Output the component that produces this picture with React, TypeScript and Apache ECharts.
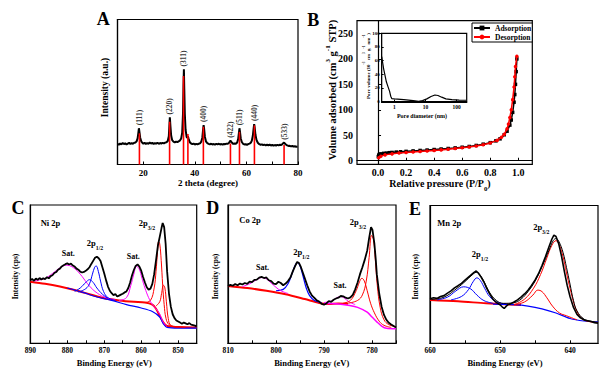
import React, { useEffect, useRef } from "react";
import * as echarts from "echarts";

const SERIF = "Liberation Serif, serif";

// ---------- Panel A: XRD ----------
const xrdPattern: [number, number][] = [
  [10, 14.2], [10.5, 13.6], [11, 14.5], [11.5, 13.9], [12, 14.8], [12.5, 14.1], [13, 14.6], [13.5, 13.8], [14, 14.4], [14.5, 14.9],
  [15, 14.2], [15.5, 14.7], [16, 14.3], [16.5, 15.0], [17, 15.2], [17.4, 16.0], [17.8, 18.0], [18.1, 22.0], [18.3, 25.0], [18.5, 22.5],
  [18.8, 18.5], [19.2, 16.0], [19.6, 15.0], [20, 14.4], [20.5, 14.9], [21, 14.2], [21.5, 14.8], [22, 14.3], [22.5, 15.1], [23, 14.5],
  [23.5, 14.9], [24, 14.2], [24.5, 14.7], [25, 14.4], [25.5, 15.0], [26, 14.3], [26.5, 14.8], [27, 14.5], [27.5, 14.9], [28, 14.6],
  [28.5, 15.1], [29, 15.3], [29.5, 16.2], [29.9, 19.5], [30.1, 26], [30.3, 32.5], [30.5, 27], [30.8, 20], [31.2, 16.8], [31.7, 15.8],
  [32.2, 15.3], [32.7, 15.8], [33.2, 15.4], [33.7, 16.0], [34.2, 16.5], [34.7, 18.0], [35.1, 22], [35.4, 35], [35.6, 55], [35.75, 65.6],
  [35.9, 52], [36.1, 35], [36.4, 24], [36.8, 19], [37.1, 18.5], [37.3, 19.5], [37.6, 17.5], [38.0, 15.5], [38.5, 14.5], [39, 14.0],
  [39.5, 14.4], [40, 13.8], [40.5, 14.2], [41, 13.9], [41.5, 14.3], [42, 14.6], [42.5, 15.8], [42.9, 18.5], [43.2, 24], [43.4, 27.2],
  [43.6, 24.5], [43.9, 19], [44.3, 16], [44.8, 14.8], [45.3, 14.2], [45.8, 13.9], [46.3, 14.3], [46.8, 13.8], [47.3, 14.1], [47.8, 13.7],
  [48.3, 14.2], [48.8, 13.9], [49.3, 14.3], [49.8, 13.8], [50.3, 14.1], [50.8, 13.7], [51.3, 14.2], [51.8, 14.0], [52.3, 14.4], [52.8, 14.3],
  [53.3, 15.0], [53.6, 16.0], [53.8, 16.4], [54.0, 16.0], [54.4, 15.0], [54.9, 14.2], [55.4, 14.5], [55.9, 14.3], [56.4, 15.2], [56.8, 17.5],
  [57.1, 22], [57.3, 25], [57.5, 22.5], [57.8, 18], [58.2, 15.5], [58.7, 14.3], [59.2, 13.8], [59.7, 14.0], [60.2, 13.6], [60.7, 14.1],
  [61.2, 14.4], [61.7, 15.0], [62.1, 16.5], [62.5, 20], [62.8, 25], [63.0, 27.9], [63.2, 25.5], [63.5, 20.5], [63.9, 17], [64.4, 15],
  [65, 14], [65.5, 13.6], [66, 13.9], [66.5, 13.4], [67, 13.7], [67.5, 13.2], [68, 13.6], [68.5, 13.3], [69, 13.7], [69.5, 13.1],
  [70, 13.5], [70.5, 13.0], [71, 13.4], [71.5, 13.1], [72, 13.5], [72.5, 13.2], [73, 13.6], [73.5, 13.4], [74, 14.2], [74.3, 14.8],
  [74.6, 15.0], [74.9, 14.5], [75.3, 13.8], [75.8, 13.2], [76.3, 12.8], [76.8, 12.9], [77.3, 12.5], [77.8, 12.8], [78.3, 12.3], [78.8, 12.6],
  [79.3, 12.2], [79.8, 12.4], [80, 12.3],
];
const xrdRefPos = [18.5, 30.2, 35.6, 37.3, 43.3, 53.8, 57.3, 63.1, 74.6];
const xrdRefHeight = [21.5, 29.5, 61, 21, 26, 14.5, 22.5, 27, 13.5];
const xrdLabelNames = ["(111)", "(220)", "(311)", "(400)", "(422)", "(511)", "(440)", "(533)"];
const xrdLabelPos = [18.5, 30.3, 35.75, 43.4, 53.8, 57.3, 63.1, 74.6];
const xrdLabelAt = [25, 32.5, 65.6, 27.2, 16.4, 25, 27.9, 15];
const xrdTickLabels = [20, 40, 60, 80];
const xrdTicks = [20, 30, 40, 50, 60, 70, 80];

// ---------- Panel B: N2 isotherm ----------
const adsorption: [number, number][] = [
  [0.002, 8], [0.005, 11], [0.01, 12.5], [0.02, 13.5], [0.04, 14.5], [0.06, 15], [0.08, 15.8], [0.1, 16.3], [0.13, 17],
  [0.16, 17.6], [0.2, 18.4], [0.25, 19.3], [0.3, 20.2], [0.35, 21], [0.4, 22], [0.45, 23], [0.5, 24], [0.55, 25.2],
  [0.6, 26.5], [0.65, 28], [0.7, 30], [0.75, 32.5], [0.8, 35.5], [0.84, 39], [0.87, 43], [0.9, 51], [0.92, 58],
  [0.94, 70], [0.95, 80], [0.96, 95], [0.97, 115], [0.975, 130], [0.98, 150], [0.985, 175], [0.99, 200],
];
const desorption: [number, number][] = [
  [0.99, 205], [0.98, 185], [0.975, 165], [0.97, 145], [0.96, 120], [0.95, 100], [0.94, 85], [0.93, 72], [0.92, 63],
  [0.9, 52], [0.88, 46], [0.85, 40], [0.8, 35], [0.75, 31.5], [0.7, 29], [0.65, 27], [0.6, 25.5], [0.55, 24],
  [0.5, 22.5], [0.45, 21.3], [0.4, 20.3], [0.35, 19.3], [0.3, 18.3], [0.25, 17.3], [0.2, 16.3], [0.15, 15], [0.1, 13.5],
  [0.05, 11.5], [0.02, 9], [0.005, 6],
];
const isoXLabels = [0, 0.2, 0.4, 0.6, 0.8, 1.0];
const isoYLabels = [0, 50, 100, 150, 200, 250];

// ---------- Inset: pore size distribution ----------
const poreDist: [number, number][] = [
  [0.39, 66], [0.45, 48], [0.5, 38], [0.55, 29], [0.62, 22], [0.7, 15], [0.76, 8], [0.82, 4.5], [1, 4], [2, 3],
  [4, 1.5], [6, 0.5], [8, 1.5], [11, 4], [15, 7.5], [20, 9.7], [25, 9], [33, 6.5], [45, 4], [70, 3], [120, 2.3], [200, 2],
];
const poreXLabels = [1, 10, 100];
const poreYLabels = [0, 20, 40, 60, 80, 100];

// ---------- Panel C: Ni 2p ----------
const niExp: [number, number][] = [
  [890, 45.5], [889.5, 46.5], [889, 45.2], [888.5, 46.8], [888, 45.9], [887.5, 47.2], [887, 46.1], [886.5, 47.0], [886, 46.4], [885.5, 47.8],
  [885, 47.0], [884.5, 48.6], [884, 49.2], [883.5, 50.8], [883, 51.5], [882.5, 53.2], [882, 54.0], [881.5, 55.6], [881, 56.4], [880.5, 57.2],
  [880, 57.8], [879.5, 57.0], [879, 57.6], [878.5, 56.2], [878, 55.5], [877.5, 54.0], [877, 53.2], [876.5, 51.8], [876, 51.2], [875.5, 51.6],
  [875, 52.4], [874.5, 53.5], [874, 55.0], [873.5, 57.4], [873, 59.6], [872.5, 61.8], [872, 62.6], [871.5, 61.5], [871, 59.5], [870.5, 55.0],
  [870, 50.5], [869.5, 45.5], [869, 41.0], [868.5, 38.0], [868, 36.2], [867.5, 34.8], [867, 35.6], [866.5, 33.8], [866, 34.5], [865.5, 35.2],
  [865, 35.8], [864.5, 36.8], [864, 37.5], [863.5, 40.0], [863, 44.0], [862.5, 49.0], [862, 53.0], [861.5, 56.0], [861, 57.0], [860.5, 55.5],
  [860, 52.5], [859.5, 48.0], [859, 44.0], [858.5, 40.5], [858, 38.8], [857.5, 39.5], [857, 43.0], [856.5, 50.0], [856, 60.0], [855.5, 70.5],
  [855, 77.0], [854.5, 83.5], [854.2, 87.0], [853.8, 84.0], [853.4, 72.0], [853, 52.0], [852.5, 36.0], [852, 26.5], [851.5, 21.0], [851, 18.2],
  [850.5, 16.5], [850, 15.8], [849.5, 15.0], [849, 14.2], [848.5, 15.0], [848, 14.4], [847.5, 13.8], [847, 14.6], [846.5, 13.5], [846, 13.2],
  [845.5, 12.8], [845, 12.2],
];
const niBgRed: [number, number][] = [
  [890, 44.5], [886, 43], [882, 41], [878, 38.5], [874, 35.5], [870, 32.5], [866, 31], [862, 30], [859, 29.5], [857, 28],
  [856, 25], [855, 20], [854, 15], [853, 12.5], [850, 11.8], [845, 11.5],
];
const niBgBlue: [number, number][] = [
  [880, 40], [876, 37], [872, 33.5], [868, 31], [864, 28], [860, 25.5], [857, 23], [855, 19], [854, 14], [853, 11.5], [850, 11], [845, 11],
];
const niSat1: [number, number][] = [
  [889, 45], [886, 47], [884, 50.5], [882, 54.5], [880.3, 56.5], [878.5, 55], [876.5, 50], [874.5, 43], [872.5, 37.5], [870, 33.5], [867, 31.5],
];
const niP12a: [number, number][] = [
  [877, 37], [875, 39.5], [874, 43], [873.2, 50], [872.6, 55], [872.2, 56], [871.6, 52], [871, 45], [870.2, 37.5], [869, 33], [867, 31],
];
const niP12b: [number, number][] = [
  [878, 37.5], [876.5, 40], [875, 44], [874, 46], [873, 44], [872, 40], [870.5, 35.5], [869, 32.5],
];
const niSat2: [number, number][] = [
  [866, 31], [864, 33], [862.8, 42], [862, 50], [861.3, 55.5], [860.6, 54], [859.8, 47], [859, 40], [858, 33], [857, 28],
  [856, 25], [855, 21], [854, 15], [853, 12],
];
const niP32a: [number, number][] = [
  [859, 29.5], [857.5, 31], [856.5, 40], [856, 52], [855.6, 66], [855.3, 73.5], [855, 72], [854.6, 60], [854.2, 42], [853.8, 28],
  [853.3, 18], [852.5, 13.5], [851, 12], [848, 11.6],
];
const niP32b: [number, number][] = [
  [856, 27], [855, 30], [854.5, 36], [854, 42], [853.6, 40], [853.2, 30], [852.7, 18], [852, 13], [850, 11.8],
];

// ---------- Panel D: Co 2p ----------
const coExp: [number, number][] = [
  [810, 41.2], [809.5, 42.3], [809, 41.6], [808.5, 42.8], [808, 42.0], [807.5, 43.2], [807, 42.5], [806.5, 43.6], [806, 43.0], [805.5, 44.6],
  [805, 44.2], [804.5, 45.8], [804, 46.0], [803.5, 47.5], [803, 48.0], [802.5, 47.2], [802, 47.6], [801.5, 45.6], [801, 45.0], [800.5, 43.2],
  [800, 42.8], [799.5, 44.5], [799, 43.6], [798.5, 42.0], [798, 43.2], [797.5, 45.0], [797, 47.5], [796.5, 52.0], [796, 56.0], [795.6, 58.8],
  [795.2, 58.0], [794.8, 55.0], [794.4, 51.0], [794, 47.0], [793.5, 42.0], [793, 37.5], [792.5, 34.5], [792, 32.8], [791.5, 31.0], [791, 30.2],
  [790.5, 28.5], [790, 28.0], [789.5, 28.8], [789, 30.5], [788.5, 30.0], [788, 31.5], [787.5, 32.4], [787, 33.0], [786.5, 34.2], [786, 34.0],
  [785.5, 33.0], [785, 32.4], [784.5, 33.2], [784, 35.0], [783.5, 39.0], [783, 44.0], [782.5, 50.0], [782, 55.0], [781.5, 60.5], [781, 67.0],
  [780.6, 76.0], [780.2, 84.0], [779.9, 82.0], [779.5, 72.0], [779.2, 60.0], [779, 50.0], [778.5, 36.0], [778, 26.5], [777.5, 20.5], [777, 17.0],
  [776.5, 14.8], [776, 13.6], [775.5, 12.5], [775, 11.4],
];
const coBgRed: [number, number][] = [
  [810, 41.5], [806, 40], [802, 38], [798, 35.5], [794, 32], [791, 29.2], [789, 28.5], [787, 28.8], [785, 28.6],
];
const coBgMag: [number, number][] = [
  [790, 29], [787, 28.5], [785, 27.5], [783, 26], [781, 22.5], [780, 19], [779, 15.5], [778, 12.5], [777, 10.8], [775, 10.5],
];
const coP12: [number, number][] = [
  [800, 38], [798.5, 39], [797.5, 43], [796.6, 51], [796, 56.5], [795.5, 58.5], [795, 56], [794.4, 49], [793.7, 40], [793, 34.5],
  [792, 31], [790.5, 29.5],
];
const coSat1: [number, number][] = [
  [807, 41], [805.5, 43], [804, 46], [803, 47.5], [802, 46.5], [801, 43.5], [800, 40.5], [799, 38], [797.5, 36],
];
const coSat2: [number, number][] = [
  [790, 29.5], [788.5, 30.5], [787.3, 33], [786.5, 33.8], [785.7, 32.5], [784.8, 30], [783.5, 28],
];
const coP32a: [number, number][] = [
  [785, 29], [783, 31], [782, 35], [781.2, 45], [780.6, 62], [780.1, 78], [779.7, 75], [779.3, 60], [778.9, 42], [778.3, 26],
  [777.5, 17], [776.5, 13.5], [775, 12],
];
const coP32b: [number, number][] = [
  [786, 29], [784.5, 31], [783.3, 38], [782.6, 44.5], [782.1, 47], [781.6, 45], [781, 38], [780.3, 29], [779.5, 22], [778.5, 16],
  [777.5, 13], [776, 11.5],
];

// ---------- Panel E: Mn 2p ----------
const mnExp: [number, number][] = [
  [660, 32.3], [659.5, 33.0], [659, 32.6], [658.5, 34.0], [658, 34.6], [657.5, 36.4], [657, 38.0], [656.5, 40.2], [656, 41.8], [655.5, 43.5],
  [655, 45.8], [654.5, 48.0], [654, 50.2], [653.7, 51.5], [653.4, 52.5], [653.1, 51.0], [652.7, 48.0], [652.3, 44.5], [652, 41.0], [651.5, 36.0],
  [651, 32.0], [650.5, 29.5], [650, 28.0], [649.7, 26.5], [649.4, 25.3], [649.1, 27.0], [648.8, 28.2], [648.5, 28.6], [648, 30.0], [647.5, 31.5],
  [647, 33.5], [646.5, 35.8], [646, 38.5], [645.5, 42.0], [645, 45.8], [644.5, 50.5], [644, 56.5], [643.5, 63.0], [643, 70.0], [642.6, 75.5],
  [642.3, 78.5], [642, 77.5], [641.6, 72.0], [641.2, 63.0], [640.8, 52.0], [640.4, 42.0], [640, 34.0], [639.5, 26.0], [639, 21.0], [638.5, 18.5],
  [638, 17.0], [637.5, 16.4], [637, 15.8], [636.5, 15.0], [636, 14.5],
];
const mnEnvelope: [number, number][] = [
  [660, 31.8], [658, 33.5], [656, 40.5], [655, 44.8], [654, 49.5], [653.4, 51.5], [653, 50.5], [652.3, 45], [651.5, 37], [650.5, 31],
  [649.5, 29], [648, 29.5], [647, 32], [646, 37.5], [645, 45], [644, 55.5], [643, 67.5], [642.4, 74.5], [642, 76], [641.6, 74],
  [641, 66], [640.5, 55], [640, 43], [639.5, 31], [639, 23.5], [638, 17.5], [637, 16], [636, 15.2],
];
const mnBgRed: [number, number][] = [
  [660, 31.5], [656, 30.5], [652, 29], [650, 28.5], [647, 27.8],
];
const mnBgBlue: [number, number][] = [
  [651, 28.5], [648, 28], [646, 27], [644, 25], [642, 22], [640, 18], [638, 16.2], [636, 15.5],
];
const mnP12a: [number, number][] = [
  [659, 31.5], [657.5, 33.5], [656.3, 38], [655.2, 41], [654.2, 39.5], [653.3, 35], [652.3, 31], [651, 29],
];
const mnP12b: [number, number][] = [
  [657, 31.5], [655.5, 34], [654.5, 39], [653.8, 45], [653.3, 47.5], [652.8, 45.5], [652.2, 40], [651.5, 34], [650.5, 30], [649, 28.5],
];
const mnP32a: [number, number][] = [
  [648, 28], [646.5, 32], [645.2, 40], [644.2, 50], [643.3, 62], [642.6, 71], [642, 74.5], [641.5, 71], [641, 63], [640.5, 51],
  [640, 40], [639.5, 30], [639, 23], [638.3, 18], [637.5, 16], [636, 15],
];
const mnP32b: [number, number][] = [
  [648, 28], [646.5, 30], [645.3, 35], [644.6, 38.6], [644, 37.5], [643.3, 33], [642.5, 27], [641.5, 22], [640.5, 20], [639, 17],
];

const niLabels = [850, 860, 870, 880, 890];
const niTicks = [845, 850, 855, 860, 865, 870, 875, 880, 885, 890];
const coLabels = [780, 790, 800, 810];
const coTicks = [775, 780, 785, 790, 795, 800, 805, 810];
const mnLabels = [640, 650, 660];
const mnTicks = [640, 645, 650, 655, 660];

const BLACK = "#000000";
const RED = "#ff0000";
const BLUE = "#0000ff";
const MAG = "#ff00ff";

function xAxisOf(gridIndex: number, min: number, max: number, labels: number[], ticks: number[], fontSize: number, margin: number, extra: any = {}) {
  return {
    type: "value",
    gridIndex,
    min,
    max,
    axisLine: { show: true, lineStyle: { color: BLACK, width: 1.2 } },
    axisTick: { show: true, inside: true, length: 3, customValues: ticks, lineStyle: { color: BLACK } },
    axisLabel: {
      show: true,
      customValues: labels,
      color: BLACK,
      fontFamily: SERIF,
      fontWeight: "bold",
      fontSize,
      margin,
    },
    splitLine: { show: false },
    ...extra,
  };
}

function hiddenY(gridIndex: number, min: number, max: number) {
  return {
    type: "value",
    gridIndex,
    min,
    max,
    axisLine: { show: true, lineStyle: { color: BLACK, width: 1.2 } },
    axisTick: { show: false },
    axisLabel: { show: false },
    splitLine: { show: false },
  };
}

function curve(data: [number, number][], idx: number, color: string, width: number, smooth: number | boolean, z = 2) {
  return {
    type: "line",
    data,
    xAxisIndex: idx,
    yAxisIndex: idx,
    showSymbol: false,
    smooth,
    silent: true,
    z,
    lineStyle: { color, width },
    itemStyle: { color },
  };
}

function txt(x: number, y: number, text: string, fontSize: number, opts: any = {}) {
  const { rotation, rich, weight, align } = opts;
  return {
    type: "text",
    x,
    y,
    rotation: rotation || 0,
    silent: true,
    z: 100,
    style: {
      text,
      fontFamily: SERIF,
      fontSize,
      fontWeight: weight || "bold",
      fill: BLACK,
      align: align || "center",
      verticalAlign: "middle",
      rich,
    },
  };
}

const subRich = (size: number) => ({
  n: { fontFamily: SERIF, fontSize: size, fontWeight: "bold", lineHeight: size + 4, verticalAlign: "top", fill: BLACK },
  s: { fontFamily: SERIF, fontSize: size * 0.68, fontWeight: "bold", lineHeight: size * 0.68, verticalAlign: "bottom", fill: BLACK },
});
const supRich = (size: number) => ({
  n: { fontFamily: SERIF, fontSize: size, fontWeight: "bold", lineHeight: size + 3, verticalAlign: "bottom", fill: BLACK },
  s: { fontFamily: SERIF, fontSize: size * 0.68, fontWeight: "bold", lineHeight: size * 0.68, verticalAlign: "top", fill: BLACK },
});

export default function App() {
  const ref = useRef<HTMLDivElement>(null);
  useEffect(() => {
    if (!ref.current) return;
    const chart = echarts.init(ref.current, undefined, { renderer: "svg" });
    const gridBox = { show: true, borderColor: BLACK, borderWidth: 1.2, containLabel: false };
    const option: any = {
      animation: false,
      backgroundColor: "#ffffff",
      textStyle: { fontFamily: SERIF },
      grid: [
        { ...gridBox, left: 117.5, top: 19.5, width: 180.5, height: 145 },
        { ...gridBox, left: 357, top: 20.7, width: 175.3, height: 143.6 },
        { ...gridBox, left: 381.7, top: 33.3, width: 85, height: 69, z: 5 },
        { ...gridBox, left: 30.3, top: 205, width: 166.4, height: 138.3 },
        { ...gridBox, left: 228, top: 205, width: 168, height: 138.3 },
        { ...gridBox, left: 430, top: 205.5, width: 168, height: 137.8 },
      ],
      legend: {
        data: ["Adsorption", "Desorption"],
        left: 472,
        top: 23,
        orient: "vertical",
        itemGap: 1,
        itemWidth: 16,
        itemHeight: 6,
        padding: [1, 1],
        borderColor: BLACK,
        borderWidth: 1,
        borderRadius: 0,
        backgroundColor: "#ffffff",
        textStyle: { fontFamily: SERIF, fontWeight: "bold", fontSize: 7.5, color: BLACK },
      },
      xAxis: [
        xAxisOf(0, 10, 80, xrdTickLabels, xrdTicks, 9, 4),
        xAxisOf(1, -0.15, 1.1, isoXLabels, isoXLabels, 10, 3, {
          axisLabel: {
            show: true, customValues: isoXLabels, color: BLACK, fontFamily: SERIF, fontWeight: "bold", fontSize: 10, margin: 3,
            formatter: (v: number) => v.toFixed(1),
          },
        }),
        {
          type: "log",
          gridIndex: 2,
          min: 0.39,
          max: 210,
          logBase: 10,
          axisLine: { show: true, lineStyle: { color: BLACK, width: 1 } },
          axisTick: { show: true, inside: true, length: 2, customValues: poreXLabels, lineStyle: { color: BLACK } },
          axisLabel: { show: true, customValues: poreXLabels, color: BLACK, fontFamily: SERIF, fontWeight: "bold", fontSize: 5.5, margin: 2, formatter: (v: number) => String(v) },
          splitLine: { show: false },
        },
        xAxisOf(3, 845, 890, niLabels, niTicks, 7.5, 3, { inverse: true }),
        xAxisOf(4, 775, 810, coLabels, coTicks, 7.5, 3, { inverse: true }),
        xAxisOf(5, 636, 660, mnLabels, mnTicks, 7.5, 3, { inverse: true }),
      ],
      yAxis: [
        hiddenY(0, 0, 100),
        {
          type: "value",
          gridIndex: 1,
          min: -7,
          max: 275,
          axisLine: { show: true, lineStyle: { color: BLACK, width: 1.2 } },
          axisTick: { show: true, inside: true, length: 3, customValues: isoYLabels, lineStyle: { color: BLACK } },
          axisLabel: { show: true, customValues: isoYLabels, color: BLACK, fontFamily: SERIF, fontWeight: "bold", fontSize: 10, margin: 4 },
          splitLine: { show: false },
        },
        {
          type: "value",
          gridIndex: 2,
          min: -1,
          max: 100,
          axisLine: { show: true, lineStyle: { color: BLACK, width: 1 } },
          axisTick: { show: true, inside: true, length: 2, customValues: poreYLabels, lineStyle: { color: BLACK } },
          axisLabel: { show: true, customValues: poreYLabels, color: BLACK, fontFamily: SERIF, fontWeight: "bold", fontSize: 5, margin: 2 },
          splitLine: { show: false },
        },
        hiddenY(3, 0, 100),
        hiddenY(4, 0, 100),
        hiddenY(5, 0, 100),
      ],
      series: [
        // A
        {
          type: "bar",
          xAxisIndex: 0,
          yAxisIndex: 0,
          barWidth: 1.6,
          silent: true,
          z: 3,
          itemStyle: { color: RED },
          data: xrdRefPos.map((p, i) => [p, xrdRefHeight[i]]),
        },
        curve(xrdPattern, 0, BLACK, 2, false, 2),
        {
          type: "scatter",
          xAxisIndex: 0,
          yAxisIndex: 0,
          symbolSize: 0,
          silent: true,
          z: 4,
          data: xrdLabelNames.map((n, i) => ({ name: n, value: [xrdLabelPos[i], xrdLabelAt[i]] })),
          label: {
            show: true,
            position: "top",
            distance: 3,
            rotate: 90,
            align: "left",
            verticalAlign: "middle",
            formatter: (p: any) => p.name,
            fontFamily: SERIF,
            fontWeight: "bold",
            fontSize: 7.5,
            color: BLACK,
          },
        },
        // B
        {
          type: "line",
          name: "Adsorption",
          xAxisIndex: 1,
          yAxisIndex: 1,
          data: adsorption,
          symbol: "rect",
          symbolSize: 3.5,
          showSymbol: true,
          lineStyle: { color: BLACK, width: 1.5 },
          itemStyle: { color: BLACK },
          z: 3,
        },
        {
          type: "line",
          name: "Desorption",
          xAxisIndex: 1,
          yAxisIndex: 1,
          data: desorption,
          symbol: "circle",
          symbolSize: 3.5,
          showSymbol: true,
          lineStyle: { color: RED, width: 1.5 },
          itemStyle: { color: RED },
          z: 4,
        },
        // inset
        curve(poreDist, 2, BLACK, 1.2, false, 6),
        // C
        curve(niBgRed, 3, RED, 2, 0.3, 2),
        curve(niBgBlue, 3, BLUE, 1.2, 0.3, 2),
        curve(niSat1, 3, MAG, 1, 0.4, 3),
        curve(niP12a, 3, BLUE, 1, 0.4, 3),
        curve(niP12b, 3, BLUE, 1, 0.4, 3),
        curve(niSat2, 3, MAG, 1, 0.4, 3),
        curve(niP32a, 3, RED, 1, 0.4, 3),
        curve(niP32b, 3, RED, 1, 0.4, 3),
        curve(niExp, 3, BLACK, 1.8, false, 4),
        // D
        curve(coBgRed, 4, RED, 2, 0.3, 2),
        curve(coBgMag, 4, MAG, 1.5, 0.3, 2),
        curve(coP12, 4, BLUE, 1.2, 0.4, 3),
        curve(coSat1, 4, MAG, 1, 0.4, 3),
        curve(coSat2, 4, MAG, 1, 0.4, 3),
        curve(coP32a, 4, RED, 1, 0.4, 3),
        curve(coP32b, 4, RED, 1, 0.4, 3),
        curve(coExp, 4, BLACK, 1.8, false, 4),
        // E
        curve(mnBgRed, 5, RED, 2, 0.3, 2),
        curve(mnBgBlue, 5, BLUE, 1.2, 0.3, 2),
        curve(mnP12a, 5, BLUE, 1, 0.4, 3),
        curve(mnP12b, 5, BLUE, 1, 0.4, 3),
        curve(mnP32a, 5, RED, 1, 0.4, 3),
        curve(mnP32b, 5, RED, 1, 0.4, 3),
        curve(mnEnvelope, 5, BLACK, 1, 0.4, 4),
        curve(mnExp, 5, BLACK, 1.6, false, 4),
      ],
      graphic: [
        txt(103.3, 18.5, "A", 18),
        txt(313.3, 20, "B", 18),
        txt(18, 208, "C", 18),
        txt(212.7, 208, "D", 18),
        txt(415, 209, "E", 18),
        txt(105, 87.5, "Intensity (a.u.)", 9.5, { rotation: Math.PI / 2 }),
        txt(208, 182.7, "2 theta (degree)", 9),
        txt(331.7, 90, "{n|Volume adsorbed (cm}{s|3}{n| g}{s|-1}{n| STP)}", 10.5, { rotation: Math.PI / 2, rich: supRich(10.5) }),
        txt(440, 185, "{n|Relative pressure (P/P}{s|0}{n|)}", 10, { rich: subRich(10) }),
        txt(366.7, 66, "{n|Pore volume (10}{s|-3}{n| cm}{s|3}{n| g}{s|-1}{n| nm}{s|-1}{n|)}", 5, { rotation: Math.PI / 2, rich: supRich(5) }),
        txt(422, 115.7, "Pore diameter (nm)", 6),
        txt(15, 276.5, "Intensity (cps)", 7.5, { rotation: Math.PI / 2 }),
        txt(215, 276.5, "Intensity (cps)", 7.5, { rotation: Math.PI / 2 }),
        txt(415, 276.7, "Intensity (cps)", 7.5, { rotation: Math.PI / 2 }),
        txt(114.3, 363.3, "Binding Energy (eV)", 8.5),
        txt(311.7, 363.3, "Binding Energy (eV)", 8.5),
        txt(505, 363.3, "Binding Energy (eV)", 8.5),
        txt(50.5, 223.3, "Ni 2p", 8.5),
        txt(68.3, 253.3, "Sat.", 8),
        txt(95, 245, "{n|2p}{s|1/2}", 8.5, { rich: subRich(8.5) }),
        txt(133.3, 256.7, "Sat.", 8),
        txt(147, 225, "{n|2p}{s|3/2}", 8.5, { rich: subRich(8.5) }),
        txt(250, 220, "Co 2p", 8.5),
        txt(358, 223.3, "{n|2p}{s|3/2}", 8.5, { rich: subRich(8.5) }),
        txt(301.3, 253.3, "{n|2p}{s|1/2}", 8.5, { rich: subRich(8.5) }),
        txt(262.5, 267.7, "Sat.", 8),
        txt(340, 285, "Sat.", 8),
        txt(449.2, 222.7, "Mn 2p", 8.5),
        txt(541.3, 228.3, "{n|2p}{s|3/2}", 8.5, { rich: subRich(8.5) }),
        txt(480, 256, "{n|2p}{s|1/2}", 8.5, { rich: subRich(8.5) }),
      ],
    };
    chart.setOption(option);
    return () => chart.dispose();
  }, []);
  return (
    <div
      ref={ref}
      style={{ position: "absolute", left: 0, top: 0, width: 600, height: 370, background: "#fff" }}
    />
  );
}
